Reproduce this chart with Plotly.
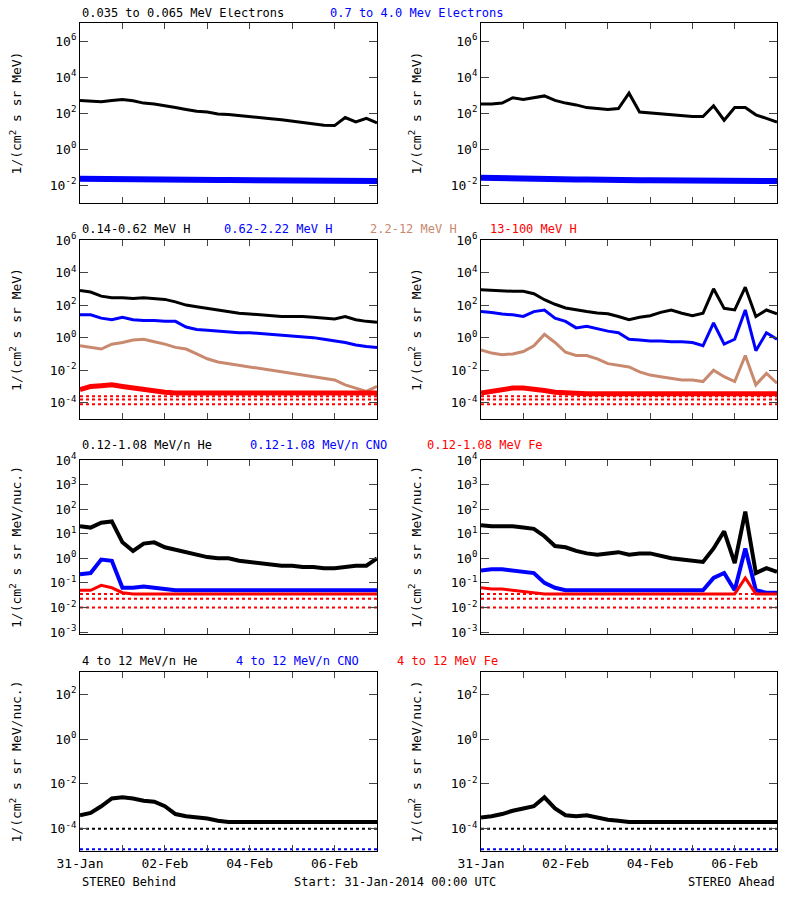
import numpy as np
import pandas as pd
import plotly.graph_objects as go

# time grid: every 6 hours from 31-Jan-2014 00:00 to 07-Feb-2014 00:00
times = pd.date_range("2014-01-31", "2014-02-07", freq="6h")
t_start, t_end = "2014-01-31", "2014-02-07"

BROWN = "#c8896f"

# ---- row 1: electrons (log10 flux) ----
b_e_low = [2.7, 2.65, 2.62, 2.7, 2.75, 2.68, 2.55, 2.5, 2.42, 2.3, 2.2, 2.1, 2.05, 1.95, 1.92,
           1.85, 1.78, 1.72, 1.68, 1.62, 1.55, 1.5, 1.4, 1.32, 1.3, 1.75, 1.5, 1.7, 1.45]
b_e_high = [-1.65, -1.66, -1.68, -1.7, -1.68, -1.7, -1.72, -1.7, -1.72, -1.72, -1.7, -1.72, -1.73, -1.72, -1.72,
            -1.73, -1.72, -1.74, -1.73, -1.74, -1.74, -1.75, -1.74, -1.75, -1.76, -1.75, -1.76, -1.77, -1.78]
a_e_low = [2.5, 2.5, 2.55, 2.85, 2.75, 2.85, 2.95, 2.7, 2.55, 2.45, 2.3, 2.25, 2.2, 2.25, 3.1,
           2.05, 2.0, 1.95, 1.9, 1.85, 1.8, 1.8, 2.4, 1.6, 2.3, 2.3, 1.9, 1.7, 1.5]
a_e_high = [-1.6, -1.62, -1.62, -1.65, -1.65, -1.66, -1.68, -1.68, -1.7, -1.7, -1.7, -1.72, -1.72, -1.72, -1.72,
            -1.73, -1.73, -1.73, -1.74, -1.74, -1.74, -1.75, -1.75, -1.75, -1.76, -1.76, -1.77, -1.77, -1.78]

# ---- row 2: protons ----
b_h1 = [2.9, 2.8, 2.55, 2.45, 2.45, 2.4, 2.45, 2.4, 2.35, 2.2, 2.0, 1.9, 1.8, 1.7, 1.6,
        1.5, 1.45, 1.4, 1.35, 1.3, 1.3, 1.3, 1.25, 1.2, 1.15, 1.3, 1.1, 1.0, 0.95]
b_h2 = [1.4, 1.4, 1.2, 1.1, 1.25, 1.1, 1.05, 1.05, 1.0, 1.0, 0.65, 0.5, 0.45, 0.4, 0.35,
        0.3, 0.3, 0.25, 0.2, 0.15, 0.1, 0.05, 0.0, -0.1, -0.2, -0.3, -0.45, -0.55, -0.6]
b_h3 = [-0.5, -0.6, -0.7, -0.4, -0.3, -0.15, -0.1, -0.25, -0.4, -0.6, -0.7, -1.0, -1.3, -1.5, -1.6,
        -1.7, -1.8, -1.9, -2.0, -2.1, -2.2, -2.3, -2.4, -2.5, -2.6, -2.9, -3.1, -3.3, -3.0]
b_h4 = [-3.2, -3.0, -2.95, -2.9, -3.0, -3.1, -3.2, -3.3, -3.35, -3.4, -3.4, -3.4, -3.4, -3.4, -3.4,
        -3.4, -3.4, -3.4, -3.4, -3.4, -3.4, -3.4, -3.4, -3.4, -3.4, -3.4, -3.4, -3.4, -3.4]
a_h1 = [2.94, 2.9, 2.85, 2.85, 2.85, 2.7, 2.33, 2.05, 1.82, 1.7, 1.6, 1.52, 1.47, 1.3, 1.1,
        1.25, 1.35, 1.55, 1.7, 1.5, 1.35, 1.5, 3.0, 1.8, 1.7, 3.1, 1.3, 1.7, 1.47]
a_h2 = [1.6, 1.55, 1.45, 1.4, 1.3, 1.6, 1.7, 1.2, 1.0, 0.6, 0.7, 0.55, 0.4, 0.3, -0.1,
        -0.15, -0.2, -0.2, -0.25, -0.25, -0.3, -0.5, 0.9, -0.4, -0.1, 1.7, -0.8, 0.3, -0.1]
a_h3 = [-0.75, -0.95, -1.05, -1.0, -0.85, -0.5, 0.2, -0.3, -0.9, -1.1, -1.1, -1.3, -1.6, -1.7, -1.8,
        -2.1, -2.3, -2.4, -2.5, -2.6, -2.6, -2.7, -2.0, -2.4, -2.7, -1.1, -2.9, -2.2, -2.8]
a_h4 = [-3.4, -3.3, -3.15, -3.1, -3.1, -3.15, -3.25, -3.35, -3.4, -3.45, -3.45, -3.45, -3.45, -3.45, -3.45,
        -3.45, -3.45, -3.45, -3.45, -3.45, -3.45, -3.45, -3.45, -3.45, -3.45, -3.45, -3.45, -3.45, -3.45]
h4_floors = [-3.6, -3.8, -4.1]

# ---- row 3: 0.12-1.08 MeV/n heavy ions ----
b_he = [1.3, 1.25, 1.45, 1.5, 0.65, 0.3, 0.6, 0.65, 0.45, 0.35, 0.25, 0.15, 0.05, 0.0, 0.0,
        -0.1, -0.15, -0.2, -0.25, -0.3, -0.3, -0.35, -0.35, -0.4, -0.4, -0.35, -0.3, -0.3, 0.0]
b_cno = [-0.65, -0.6, -0.05, -0.1, -1.2, -1.2, -1.15, -1.2, -1.25, -1.3, -1.3, -1.3, -1.3, -1.3, -1.3,
         -1.3, -1.3, -1.3, -1.3, -1.3, -1.3, -1.3, -1.3, -1.3, -1.3, -1.3, -1.3, -1.3, -1.3]
b_fe = [-1.3, -1.3, -1.1, -1.2, -1.4, -1.45, -1.45, -1.45, -1.45, -1.45, -1.45, -1.45, -1.45, -1.45, -1.45,
        -1.45, -1.45, -1.45, -1.45, -1.45, -1.45, -1.45, -1.45, -1.45, -1.45, -1.45, -1.45, -1.45, -1.45]
a_he = [1.35, 1.3, 1.3, 1.3, 1.25, 1.2, 0.9, 0.5, 0.45, 0.3, 0.2, 0.15, 0.2, 0.25, 0.15,
        0.2, 0.2, 0.1, 0.0, -0.05, -0.1, -0.15, 0.4, 1.1, -0.2, 1.9, -0.6, -0.4, -0.55]
a_cno = [-0.5, -0.45, -0.45, -0.5, -0.55, -0.6, -1.0, -1.2, -1.3, -1.3, -1.3, -1.3, -1.3, -1.3, -1.3,
         -1.3, -1.3, -1.3, -1.3, -1.3, -1.3, -1.3, -0.8, -0.6, -1.3, 0.4, -1.3, -1.4, -1.4]
a_fe = [-1.2, -1.25, -1.25, -1.3, -1.35, -1.4, -1.45, -1.45, -1.45, -1.45, -1.45, -1.45, -1.45, -1.45, -1.45,
        -1.45, -1.45, -1.45, -1.45, -1.45, -1.45, -1.45, -1.45, -1.45, -1.45, -0.8, -1.45, -1.45, -1.45]
ion_floors = [-1.45, -1.65, -2.0]

# ---- row 4: 4-12 MeV/n ions ----
b_he_hi = [-3.4, -3.3, -3.0, -2.65, -2.6, -2.65, -2.75, -2.8, -3.0, -3.35, -3.45, -3.5, -3.55, -3.65, -3.7,
           -3.7, -3.7, -3.7, -3.7, -3.7, -3.7, -3.7, -3.7, -3.7, -3.7, -3.7, -3.7, -3.7, -3.7]
a_he_hi = [-3.5, -3.45, -3.35, -3.2, -3.1, -3.0, -2.6, -3.1, -3.4, -3.45, -3.4, -3.5, -3.6, -3.65, -3.7,
           -3.7, -3.7, -3.7, -3.7, -3.7, -3.7, -3.7, -3.7, -3.7, -3.7, -3.7, -3.7, -3.7, -3.7]
hi_floors = [-4.0, -4.92]

tick_days = pd.date_range("2014-01-31", "2014-02-07", freq="1D")
tick_text = ["31-Jan", "", "02-Feb", "", "04-Feb", "", "06-Feb", ""]

# page offset (body margin) in pixels
OX, OY = 8, 8
W, H = 800, 900


def px(x):
    return (x - OX) / W


def py(y):
    return 1 - (y - OY) / H


# panel layout (pixels in the screenshot)
x_pix = [[80, 377], [481, 777]]
y_pix = [[23, 203], [240, 419], [460, 634], [672, 851]]
x_dom = [[px(a), px(b)] for a, b in x_pix]
y_dom = [[py(b), py(a)] for a, b in y_pix]
y_rng = [[-3, 7], [-5, 6], [-3.08, 4], [-5, 3]]
y_ticks = [[-2, 0, 2, 4, 6], [-4, -2, 0, 2, 4, 6], [-3, -2, -1, 0, 1, 2, 3, 4], [-4, -2, 0, 2]]
y_title = ["1/(cm<sup>2</sup> s sr MeV)", "1/(cm<sup>2</sup> s sr MeV)",
           "1/(cm<sup>2</sup> s sr MeV/nuc.)", "1/(cm<sup>2</sup> s sr MeV/nuc.)"]

panels = [
    [[(b_e_low, "black", 3), (b_e_high, "blue", 6)], [(a_e_low, "black", 3), (a_e_high, "blue", 6)]],
    [[(b_h1, "black", 3), (b_h2, "blue", 3), (b_h3, BROWN, 3), (b_h4, "red", 5)],
     [(a_h1, "black", 3), (a_h2, "blue", 3), (a_h3, BROWN, 3), (a_h4, "red", 5)]],
    [[(b_he, "black", 4), (b_cno, "blue", 4), (b_fe, "red", 3)],
     [(a_he, "black", 4), (a_cno, "blue", 4), (a_fe, "red", 3)]],
    [[(b_he_hi, "black", 4)], [(a_he_hi, "black", 4)]],
]
floors = [[], [(f, "red") for f in h4_floors], [(f, "red") for f in ion_floors],
          [(hi_floors[0], "black"), (hi_floors[1], "blue")]]

fig = go.Figure()
FAM = "DejaVu Sans Mono"
font = dict(family=FAM, size=12, color="black")
tfont = dict(family=FAM, size=13, color="black")

for r in range(4):
    for c in range(2):
        n = r * 2 + c + 1
        key = "" if n == 1 else str(n)
        xa, ya = "x" + key, "y" + key
        for lvl, col in floors[r]:
            fig.add_trace(go.Scatter(x=[times[0], times[-1]], y=[10 ** lvl] * 2, mode="lines",
                                     line=dict(color=col, width=2, dash="dot"),
                                     xaxis=xa, yaxis=ya, showlegend=False))
        for vals, col, w in panels[r][c]:
            fig.add_trace(go.Scatter(x=times, y=10 ** np.array(vals), mode="lines",
                                     line=dict(color=col, width=w),
                                     xaxis=xa, yaxis=ya, showlegend=False))
        ax = dict(domain=x_dom[c], range=[t_start, t_end], type="date", tickvals=tick_days,
                  ticktext=tick_text if r == 3 else [""] * 8, ticks="inside", ticklen=6,
                  showline=True, linecolor="black", mirror="ticks", showgrid=False,
                  zeroline=False, anchor=ya, tickfont=tfont, automargin=False)
        ay = dict(domain=y_dom[r], type="log", range=y_rng[r],
                  tickvals=[10 ** v for v in y_ticks[r]],
                  ticktext=["10<sup>%d</sup>" % v for v in y_ticks[r]],
                  ticks="inside", ticklen=8, showline=True, linecolor="black", mirror="ticks",
                  showgrid=False, zeroline=False, anchor=xa, tickfont=tfont, automargin=False,
                  title=dict(text=y_title[r], font=tfont, standoff=26))
        fig.layout["xaxis" + key] = ax
        fig.layout["yaxis" + key] = ay

row_titles = [
    [("0.035 to 0.065 MeV Electrons", "black", 80), ("0.7 to 4.0 Mev Electrons", "blue", 328)],
    [("0.14-0.62 MeV H", "black", 80), ("0.62-2.22 MeV H", "blue", 222),
     ("2.2-12 MeV H", BROWN, 368), ("13-100 MeV H", "red", 488)],
    [("0.12-1.08 MeV/n He", "black", 80), ("0.12-1.08 MeV/n CNO", "blue", 248),
     ("0.12-1.08 MeV Fe", "red", 425)],
    [("4 to 12 MeV/n He", "black", 80), ("4 to 12 MeV/n CNO", "blue", 234),
     ("4 to 12 MeV Fe", "red", 395)],
]
row_y = [13, 229, 445, 661]
for r, items in enumerate(row_titles):
    for text, col, x0 in items:
        fig.add_annotation(text=text, x=px(x0), y=py(row_y[r]), xref="paper", yref="paper",
                           xanchor="left", yanchor="middle", showarrow=False,
                           font=dict(family=FAM, size=12, color=col))

for text, x0, anc in [("STEREO Behind", 80, "left"), ("Start: 31-Jan-2014 00:00 UTC", 292, "left"),
                      ("STEREO Ahead", 777, "right")]:
    fig.add_annotation(text=text, x=px(x0), y=py(882), xref="paper", yref="paper",
                       xanchor=anc, yanchor="middle", showarrow=False, font=font)

fig.update_layout(width=W, height=H, margin=dict(l=0, r=0, t=0, b=0),
                  paper_bgcolor="white", plot_bgcolor="white")
fig.write_html("out.html")
